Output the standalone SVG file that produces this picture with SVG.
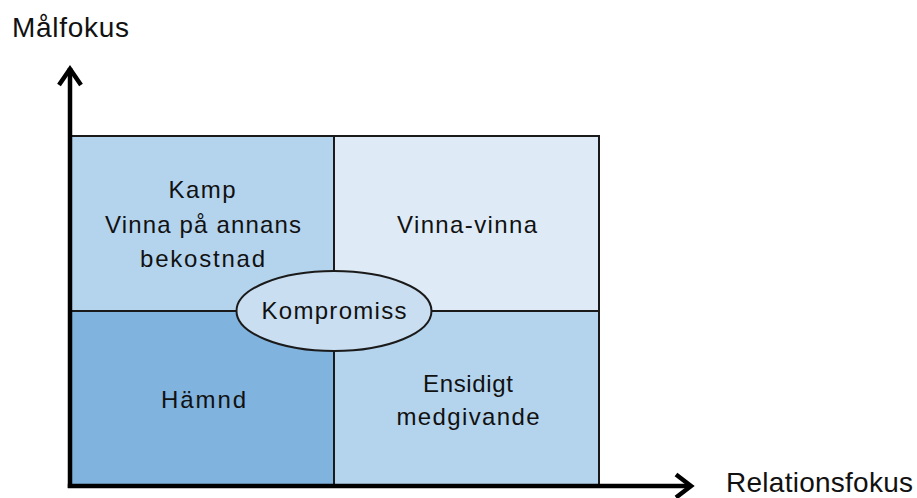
<svg xmlns="http://www.w3.org/2000/svg" width="917" height="498" viewBox="0 0 917 498">
<style>
text{font-family:"Liberation Sans",Arial,sans-serif;fill:#111;}
.q{font-size:24px;text-anchor:middle;}
.ax{font-size:28px;}
.cell{stroke:#1a1a1a;stroke-width:2;}
.axis{stroke:#000;stroke-width:4.5;fill:none;}
</style>
<rect width="917" height="498" fill="#fff"/>
<g id="kamp">
<rect class="cell" x="70" y="136" width="264" height="175" fill="#B4D4EE"/>
<text class="q" x="202" y="198" textLength="67" lengthAdjust="spacing">Kamp</text>
<text class="q" x="203" y="233" textLength="196" lengthAdjust="spacing">Vinna på annans</text>
<text class="q" x="202.5" y="267" textLength="125" lengthAdjust="spacing">bekostnad</text>
</g>
<g id="vinna-vinna">
<rect class="cell" x="334" y="136" width="265" height="175" fill="#DEEBF7"/>
<text class="q" x="467" y="233" textLength="140" lengthAdjust="spacing">Vinna-vinna</text>
</g>
<g id="hamnd">
<rect class="cell" x="70" y="311" width="264" height="174" fill="#80B3DE"/>
<text class="q" x="203.5" y="408" textLength="85" lengthAdjust="spacing">Hämnd</text>
</g>
<g id="ensidigt">
<rect class="cell" x="334" y="311" width="265" height="174" fill="#B4D4EE"/>
<text class="q" x="468" y="392" textLength="90" lengthAdjust="spacing">Ensidigt</text>
<text class="q" x="468" y="425" textLength="143" lengthAdjust="spacing">medgivande</text>
</g>
<g id="kompromiss">
<ellipse cx="334" cy="311" rx="97.5" ry="40" fill="#C9DEF0" stroke="#1a1a1a" stroke-width="2"/>
<text class="q" x="334" y="319" textLength="145" lengthAdjust="spacing">Kompromiss</text>
</g>
<g id="connectors">
<line class="axis" x1="70" y1="68" x2="70" y2="488"/>
<polyline class="axis" points="59,85 70,69 81,85"/>
<line class="axis" x1="67.8" y1="486" x2="691" y2="486"/>
<polyline class="axis" points="676,474.5 691,486 676,497.5"/>
</g>
<g id="labels">
<text class="ax" x="12" y="37" textLength="117" lengthAdjust="spacing">Målfokus</text>
<text class="ax" x="726" y="492" textLength="187" lengthAdjust="spacing">Relationsfokus</text>
</g>
</svg>
